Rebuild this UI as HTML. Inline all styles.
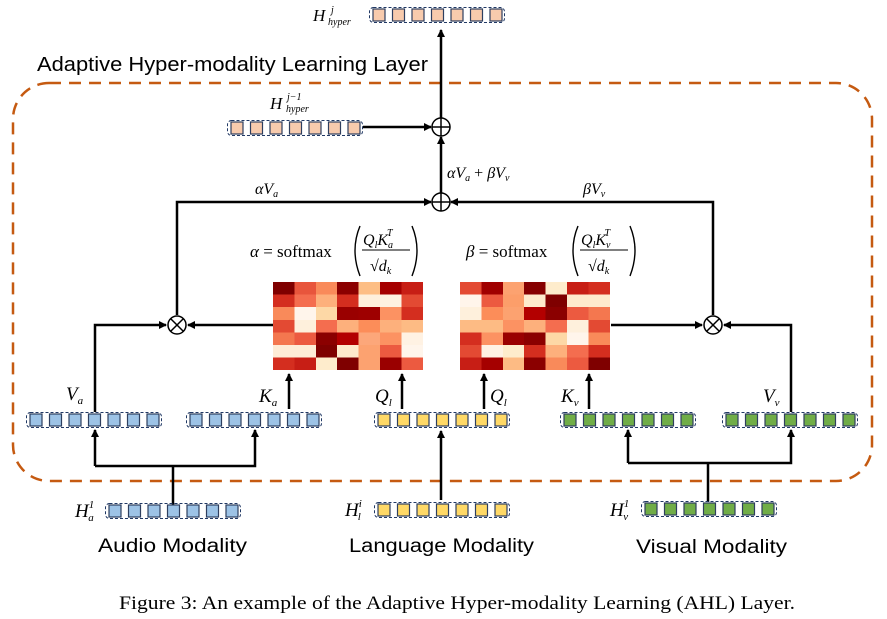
<!DOCTYPE html>
<html><head><meta charset="utf-8"><style>
html,body{margin:0;padding:0;background:#fff;}
svg{display:block;}
.m{font-family:"Liberation Serif",serif;font-style:italic;}
.s{font-family:"Liberation Sans",sans-serif;}
</style></head><body>
<svg width="887" height="619" viewBox="0 0 887 619" xmlns="http://www.w3.org/2000/svg">
<defs>
<marker id="ah" markerWidth="8" markerHeight="8" refX="7" refY="4" orient="auto" markerUnits="userSpaceOnUse">
<path d="M0,0 L8,4 L0,8 z" fill="#000"/></marker>
<symbol id="vec" overflow="visible">
<rect x="0.5" y="0.5" width="135" height="15" rx="4" fill="none" stroke="#203864" stroke-width="1" stroke-dasharray="3,2"/>
<rect x="4" y="2" width="12" height="12" stroke="#2f3f5f" stroke-width="1.2"/>
<rect x="23.5" y="2" width="12" height="12" stroke="#2f3f5f" stroke-width="1.2"/>
<rect x="43" y="2" width="12" height="12" stroke="#2f3f5f" stroke-width="1.2"/>
<rect x="62.5" y="2" width="12" height="12" stroke="#2f3f5f" stroke-width="1.2"/>
<rect x="82" y="2" width="12" height="12" stroke="#2f3f5f" stroke-width="1.2"/>
<rect x="101.5" y="2" width="12" height="12" stroke="#2f3f5f" stroke-width="1.2"/>
<rect x="121" y="2" width="12" height="12" stroke="#2f3f5f" stroke-width="1.2"/>
</symbol>
</defs>

<rect x="13" y="83" width="859" height="398" rx="36" fill="none" stroke="#c55a11" stroke-width="2.5" stroke-dasharray="12,8"/>
<text x="37" y="71" class="s" font-size="20" textLength="391" lengthAdjust="spacingAndGlyphs">Adaptive Hyper-modality Learning Layer</text>

<use href="#vec" x="369" y="7" fill="#f8cbad"/>
<text x="313" y="21" class="m" font-size="17">H</text><text x="331" y="13" class="m" font-size="10">j</text><text x="328" y="25" class="m" font-size="10">hyper</text>
<use href="#vec" x="227" y="120" fill="#f8cbad"/>
<text x="270" y="109" class="m" font-size="17">H</text><text x="287" y="100" class="m" font-size="10">j−1</text><text x="286" y="112" class="m" font-size="10">hyper</text>

<g stroke="#000" stroke-width="2.5" fill="none">
<line x1="441" y1="118" x2="441" y2="30" marker-end="url(#ah)"/>
<line x1="363" y1="127" x2="431" y2="127" marker-end="url(#ah)"/>
<line x1="441" y1="193" x2="441" y2="137" marker-end="url(#ah)"/>
<polyline points="177,315 177,202 431,202" marker-end="url(#ah)"/>
<polyline points="713,315 713,202 451,202" marker-end="url(#ah)"/>
<polyline points="791,412 791,325 724,325" marker-end="url(#ah)"/>
<polyline points="95,412 95,325 166,325" marker-end="url(#ah)"/>
<line x1="273" y1="325" x2="188" y2="325" marker-end="url(#ah)"/>
<line x1="611" y1="325" x2="702" y2="325" marker-end="url(#ah)"/>
<line x1="289" y1="409" x2="289" y2="374" marker-end="url(#ah)"/>
<line x1="402" y1="409" x2="402" y2="374" marker-end="url(#ah)"/>
<line x1="484" y1="409" x2="484" y2="374" marker-end="url(#ah)"/>
<line x1="589" y1="409" x2="589" y2="374" marker-end="url(#ah)"/>
<line x1="173" y1="505" x2="173" y2="466"/>
<polyline points="95,466 95,430" marker-end="url(#ah)"/>
<polyline points="95,466 255,466 255,430" marker-end="url(#ah)"/>
<line x1="441" y1="500" x2="441" y2="431" marker-end="url(#ah)"/>
<line x1="708" y1="502" x2="708" y2="463"/>
<polyline points="628,463 791,463 791,430" marker-end="url(#ah)"/>
<polyline points="628,463 628,430" marker-end="url(#ah)"/>
</g>

<g stroke="#000" stroke-width="1.5" fill="#fff">
<circle cx="441" cy="127" r="9"/><circle cx="441" cy="202" r="9"/>
<circle cx="177" cy="325" r="9"/><circle cx="713" cy="325" r="9"/>
</g>
<g stroke="#000" stroke-width="1.5">
<line x1="432" y1="127" x2="450" y2="127"/><line x1="441" y1="118" x2="441" y2="136"/>
<line x1="432" y1="202" x2="450" y2="202"/><line x1="441" y1="193" x2="441" y2="211"/>
<line x1="170.6" y1="318.6" x2="183.4" y2="331.4"/><line x1="183.4" y1="318.6" x2="170.6" y2="331.4"/>
<line x1="706.6" y1="318.6" x2="719.4" y2="331.4"/><line x1="719.4" y1="318.6" x2="706.6" y2="331.4"/>
</g>

<text x="447" y="178" class="m" font-size="16">αV<tspan font-size="10" dy="3">a</tspan><tspan dy="-3" font-style="normal"> + </tspan>βV<tspan font-size="10" dy="3">v</tspan></text>
<text x="255" y="194" class="m" font-size="16">αV<tspan font-size="10" dy="3">a</tspan></text>
<text x="583" y="194" class="m" font-size="16">βV<tspan font-size="10" dy="3">v</tspan></text>

<!-- formulas -->
<g font-size="17">
<text x="250" y="257" class="m">α<tspan font-style="normal"> = softmax</tspan></text>
<path d="M360,226 Q350,250 360,276" fill="none" stroke="#000" stroke-width="1.4"/>
<text x="363" y="245" class="m" font-size="16">Q<tspan font-size="10" dy="3">l</tspan><tspan dy="-3">K</tspan><tspan font-size="10" dy="3">a</tspan><tspan font-size="10" dy="-12" dx="-6">T</tspan></text>
<line x1="362" y1="250" x2="410" y2="250" stroke="#000" stroke-width="1"/>
<text x="370" y="271" font-family="Liberation Serif" font-size="16">√<tspan class="m">d</tspan><tspan class="m" font-size="10" dy="3">k</tspan></text>
<path d="M412,226 Q422,250 412,276" fill="none" stroke="#000" stroke-width="1.4"/>

<text x="466" y="257" class="m">β<tspan font-style="normal"> = softmax</tspan></text>
<path d="M578,226 Q568,250 578,276" fill="none" stroke="#000" stroke-width="1.4"/>
<text x="581" y="245" class="m" font-size="16">Q<tspan font-size="10" dy="3">l</tspan><tspan dy="-3">K</tspan><tspan font-size="10" dy="3">v</tspan><tspan font-size="10" dy="-12" dx="-6">T</tspan></text>
<line x1="580" y1="250" x2="628" y2="250" stroke="#000" stroke-width="1"/>
<text x="588" y="271" font-family="Liberation Serif" font-size="16">√<tspan class="m">d</tspan><tspan class="m" font-size="10" dy="3">k</tspan></text>
<path d="M630,226 Q640,250 630,276" fill="none" stroke="#000" stroke-width="1.4"/>
</g>

<g transform="translate(273,282)" shape-rendering="crispEdges">
<g transform="scale(21.4,12.6)">
<rect x="0" y="0" width="1" height="1" fill="#7f0000"/><rect x="1" y="0" width="1" height="1" fill="#e8553c"/><rect x="2" y="0" width="1" height="1" fill="#f98a5a"/><rect x="3" y="0" width="1" height="1" fill="#8b0000"/><rect x="4" y="0" width="1" height="1" fill="#fdbe85"/><rect x="5" y="0" width="1" height="1" fill="#a50000"/><rect x="6" y="0" width="1" height="1" fill="#c71e15"/>
<rect x="0" y="1" width="1" height="1" fill="#d42e1f"/><rect x="1" y="1" width="1" height="1" fill="#f46d4f"/><rect x="2" y="1" width="1" height="1" fill="#fdb07c"/><rect x="3" y="1" width="1" height="1" fill="#d42e1f"/><rect x="4" y="1" width="1" height="1" fill="#fef0dc"/><rect x="5" y="1" width="1" height="1" fill="#fef2e0"/><rect x="6" y="1" width="1" height="1" fill="#e34a33"/>
<rect x="0" y="2" width="1" height="1" fill="#f98a5a"/><rect x="1" y="2" width="1" height="1" fill="#fff5eb"/><rect x="2" y="2" width="1" height="1" fill="#fdd8a6"/><rect x="3" y="2" width="1" height="1" fill="#9a0000"/><rect x="4" y="2" width="1" height="1" fill="#9e0000"/><rect x="5" y="2" width="1" height="1" fill="#fc9262"/><rect x="6" y="2" width="1" height="1" fill="#d42e1f"/>
<rect x="0" y="3" width="1" height="1" fill="#e34a33"/><rect x="1" y="3" width="1" height="1" fill="#fef0dc"/><rect x="2" y="3" width="1" height="1" fill="#f46d4f"/><rect x="3" y="3" width="1" height="1" fill="#fdb07c"/><rect x="4" y="3" width="1" height="1" fill="#fc8d59"/><rect x="5" y="3" width="1" height="1" fill="#fdb07c"/><rect x="6" y="3" width="1" height="1" fill="#fdbb84"/>
<rect x="0" y="4" width="1" height="1" fill="#f4774f"/><rect x="1" y="4" width="1" height="1" fill="#ec5a40"/><rect x="2" y="4" width="1" height="1" fill="#8b0000"/><rect x="3" y="4" width="1" height="1" fill="#b30000"/><rect x="4" y="4" width="1" height="1" fill="#fca77a"/><rect x="5" y="4" width="1" height="1" fill="#fc9262"/><rect x="6" y="4" width="1" height="1" fill="#fff2e3"/>
<rect x="0" y="5" width="1" height="1" fill="#feecd6"/><rect x="1" y="5" width="1" height="1" fill="#feecd6"/><rect x="2" y="5" width="1" height="1" fill="#7f0000"/><rect x="3" y="5" width="1" height="1" fill="#feeacc"/><rect x="4" y="5" width="1" height="1" fill="#fca270"/><rect x="5" y="5" width="1" height="1" fill="#ec5a40"/><rect x="6" y="5" width="1" height="1" fill="#fff5eb"/>
<rect x="0" y="6" width="1" height="1" fill="#d42e1f"/><rect x="1" y="6" width="1" height="1" fill="#c71e15"/><rect x="2" y="6" width="1" height="1" fill="#feeccc"/><rect x="3" y="6" width="1" height="1" fill="#7f0000"/><rect x="4" y="6" width="1" height="1" fill="#fca270"/><rect x="5" y="6" width="1" height="1" fill="#9a0000"/><rect x="6" y="6" width="1" height="1" fill="#ec5a40"/>
</g></g>
<g transform="translate(460,282)" shape-rendering="crispEdges">
<g transform="scale(21.4,12.6)">
<rect x="0" y="0" width="1" height="1" fill="#e34a33"/><rect x="1" y="0" width="1" height="1" fill="#a00000"/><rect x="2" y="0" width="1" height="1" fill="#fca270"/><rect x="3" y="0" width="1" height="1" fill="#860000"/><rect x="4" y="0" width="1" height="1" fill="#feeccc"/><rect x="5" y="0" width="1" height="1" fill="#c71e15"/><rect x="6" y="0" width="1" height="1" fill="#d42e1f"/>
<rect x="0" y="1" width="1" height="1" fill="#fff5eb"/><rect x="1" y="1" width="1" height="1" fill="#ec5a40"/><rect x="2" y="1" width="1" height="1" fill="#fc9e6a"/><rect x="3" y="1" width="1" height="1" fill="#feeacc"/><rect x="4" y="1" width="1" height="1" fill="#7f0000"/><rect x="5" y="1" width="1" height="1" fill="#feeacc"/><rect x="6" y="1" width="1" height="1" fill="#feeacc"/>
<rect x="0" y="2" width="1" height="1" fill="#fef0dc"/><rect x="1" y="2" width="1" height="1" fill="#fc8d59"/><rect x="2" y="2" width="1" height="1" fill="#fca270"/><rect x="3" y="2" width="1" height="1" fill="#b30000"/><rect x="4" y="2" width="1" height="1" fill="#8b0000"/><rect x="5" y="2" width="1" height="1" fill="#ec5a40"/><rect x="6" y="2" width="1" height="1" fill="#f4774f"/>
<rect x="0" y="3" width="1" height="1" fill="#fdbb84"/><rect x="1" y="3" width="1" height="1" fill="#fdbb84"/><rect x="2" y="3" width="1" height="1" fill="#fc9262"/><rect x="3" y="3" width="1" height="1" fill="#fdb07c"/><rect x="4" y="3" width="1" height="1" fill="#f46d4f"/><rect x="5" y="3" width="1" height="1" fill="#fef0dc"/><rect x="6" y="3" width="1" height="1" fill="#e34a33"/>
<rect x="0" y="4" width="1" height="1" fill="#d42e1f"/><rect x="1" y="4" width="1" height="1" fill="#fc9262"/><rect x="2" y="4" width="1" height="1" fill="#9a0000"/><rect x="3" y="4" width="1" height="1" fill="#8b0000"/><rect x="4" y="4" width="1" height="1" fill="#fdd8a6"/><rect x="5" y="4" width="1" height="1" fill="#fff5eb"/><rect x="6" y="4" width="1" height="1" fill="#f98a5a"/>
<rect x="0" y="5" width="1" height="1" fill="#e34a33"/><rect x="1" y="5" width="1" height="1" fill="#fff2e3"/><rect x="2" y="5" width="1" height="1" fill="#feeccc"/><rect x="3" y="5" width="1" height="1" fill="#d42e1f"/><rect x="4" y="5" width="1" height="1" fill="#fdb07c"/><rect x="5" y="5" width="1" height="1" fill="#f46d4f"/><rect x="6" y="5" width="1" height="1" fill="#d42e1f"/>
<rect x="0" y="6" width="1" height="1" fill="#c71e15"/><rect x="1" y="6" width="1" height="1" fill="#a50000"/><rect x="2" y="6" width="1" height="1" fill="#fdbb84"/><rect x="3" y="6" width="1" height="1" fill="#8b0000"/><rect x="4" y="6" width="1" height="1" fill="#f98a5a"/><rect x="5" y="6" width="1" height="1" fill="#ec5a40"/><rect x="6" y="6" width="1" height="1" fill="#7f0000"/>
</g></g>

<use href="#vec" x="26" y="412" fill="#9dc3e6"/>
<use href="#vec" x="186" y="412" fill="#9dc3e6"/>
<use href="#vec" x="374" y="412" fill="#ffd966"/>
<use href="#vec" x="560" y="412" fill="#70ad47"/>
<use href="#vec" x="722" y="412" fill="#70ad47"/>
<text x="66" y="400" class="m" font-size="19">V<tspan font-size="11" dy="4">a</tspan></text>
<text x="259" y="402" class="m" font-size="19">K<tspan font-size="11" dy="4">a</tspan></text>
<text x="375" y="402" class="m" font-size="19">Q<tspan font-size="11" dy="4">l</tspan></text>
<text x="490" y="402" class="m" font-size="19">Q<tspan font-size="11" dy="4">l</tspan></text>
<text x="561" y="402" class="m" font-size="19">K<tspan font-size="11" dy="4">v</tspan></text>
<text x="763" y="402" class="m" font-size="19">V<tspan font-size="11" dy="4">v</tspan></text>

<use href="#vec" x="105" y="503" fill="#9dc3e6"/>
<use href="#vec" x="374" y="502" fill="#ffd966"/>
<use href="#vec" x="641" y="501" fill="#70ad47"/>
<text x="75" y="517" class="m" font-size="19">H<tspan font-size="11" dy="-9">1</tspan><tspan font-size="11" dx="-6" dy="13">a</tspan></text>
<text x="345" y="516" class="m" font-size="19">H<tspan font-size="11" dy="-9">i</tspan><tspan font-size="11" dx="-4" dy="13">l</tspan></text>
<text x="610" y="516" class="m" font-size="19">H<tspan font-size="11" dy="-9">1</tspan><tspan font-size="11" dx="-6" dy="13">v</tspan></text>

<text x="98" y="552" class="s" font-size="19" textLength="149" lengthAdjust="spacingAndGlyphs">Audio Modality</text>
<text x="349" y="552" class="s" font-size="19" textLength="185" lengthAdjust="spacingAndGlyphs">Language Modality</text>
<text x="636" y="553" class="s" font-size="19" textLength="151" lengthAdjust="spacingAndGlyphs">Visual Modality</text>

<text x="119" y="609" font-family="Liberation Serif" font-size="19" textLength="676" lengthAdjust="spacingAndGlyphs">Figure 3: An example of the Adaptive Hyper-modality Learning (AHL) Layer.</text>
</svg>
</body></html>
